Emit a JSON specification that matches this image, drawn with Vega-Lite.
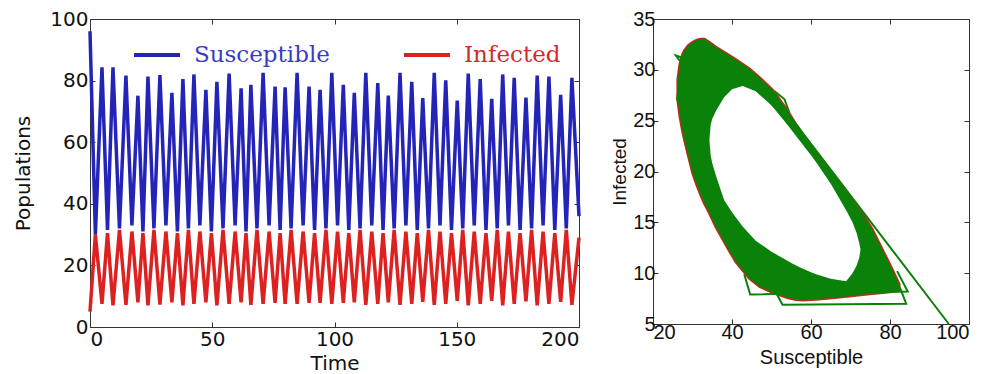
{
  "$schema": "https://vega.github.io/schema/vega-lite/v6.json",
  "background": "white",
  "padding": {"left": 13, "top": 8, "right": 0, "bottom": 0},
  "spacing": 23,
  "config": {
    "view": {"stroke": "#333", "strokeWidth": 1},
    "axis": {"grid": false, "domain": false, "tickSize": -5, "tickColor": "#333", "labelColor": "#111", "titleColor": "#111", "titleFontWeight": "normal"}
  },
  "datasets": {
    "ts": [
      {"t":0,"Susceptible":96,"Infected":5},{"t":2.2,"Susceptible":30,"Infected":30},{"t":4.9,"Susceptible":84.3,"Infected":7.5},{"t":7.15,"Susceptible":31.5,"Infected":30.5},{"t":9.4,"Susceptible":84.3,"Infected":7},{"t":12.05,"Susceptible":32,"Infected":31.5},{"t":14.7,"Susceptible":81.6,"Infected":7.2},{"t":17.15,"Susceptible":33,"Infected":31},{"t":19.6,"Susceptible":75.1,"Infected":8},{"t":21.65,"Susceptible":31,"Infected":30.5},{"t":23.7,"Susceptible":81.3,"Infected":7},{"t":26.15,"Susceptible":32,"Infected":31.5},{"t":28.6,"Susceptible":81.8,"Infected":7.3},{"t":31.05,"Susceptible":33,"Infected":31},{"t":33.5,"Susceptible":76,"Infected":8},{"t":35.75,"Susceptible":31,"Infected":30.5},{"t":38,"Susceptible":80.5,"Infected":7},{"t":40.25,"Susceptible":32,"Infected":31.5},{"t":42.5,"Susceptible":82,"Infected":7.5},{"t":44.95,"Susceptible":33,"Infected":31},{"t":47.4,"Susceptible":77,"Infected":8},{"t":49.65,"Susceptible":31,"Infected":30.5},{"t":51.9,"Susceptible":79.6,"Infected":7},{"t":54.4,"Susceptible":32,"Infected":31.5},{"t":56.9,"Susceptible":82.3,"Infected":7.5},{"t":59.35,"Susceptible":33,"Infected":31},{"t":61.8,"Susceptible":77.5,"Infected":8},{"t":63.8,"Susceptible":31,"Infected":30.5},{"t":65.8,"Susceptible":78.6,"Infected":7.2},{"t":68.3,"Susceptible":32,"Infected":31.5},{"t":70.8,"Susceptible":82.5,"Infected":7.5},{"t":73.25,"Susceptible":33,"Infected":31},{"t":75.7,"Susceptible":78.1,"Infected":7.8},{"t":77.75,"Susceptible":31.5,"Infected":30.5},{"t":79.8,"Susceptible":77.8,"Infected":7.5},{"t":82.25,"Susceptible":32,"Infected":31.5},{"t":84.7,"Susceptible":82.5,"Infected":7.5},{"t":87.15,"Susceptible":33,"Infected":31},{"t":89.6,"Susceptible":78.1,"Infected":7.8},{"t":91.85,"Susceptible":31.5,"Infected":30.5},{"t":94.1,"Susceptible":77,"Infected":7.8},{"t":96.5,"Susceptible":32,"Infected":31.5},{"t":98.9,"Susceptible":82.5,"Infected":7.5},{"t":101.25,"Susceptible":33,"Infected":31},{"t":103.6,"Susceptible":78.6,"Infected":7.8},{"t":105.85,"Susceptible":31.5,"Infected":30.5},{"t":108.1,"Susceptible":76,"Infected":8},{"t":110.45,"Susceptible":32,"Infected":31.5},{"t":112.8,"Susceptible":82.5,"Infected":7.2},{"t":115.25,"Susceptible":33,"Infected":31},{"t":117.7,"Susceptible":79.2,"Infected":7.5},{"t":119.85,"Susceptible":31.5,"Infected":30.5},{"t":122,"Susceptible":75.1,"Infected":8},{"t":124.4,"Susceptible":32,"Infected":31.5},{"t":126.8,"Susceptible":82.5,"Infected":7.2},{"t":129.2,"Susceptible":33,"Infected":31},{"t":131.6,"Susceptible":79.6,"Infected":7.5},{"t":133.85,"Susceptible":31.5,"Infected":30.5},{"t":136.1,"Susceptible":74.3,"Infected":8.2},{"t":138.45,"Susceptible":32,"Infected":31.5},{"t":140.8,"Susceptible":82.5,"Infected":7.2},{"t":143.15,"Susceptible":33,"Infected":31},{"t":145.5,"Susceptible":80.1,"Infected":7.5},{"t":147.85,"Susceptible":31.5,"Infected":30.5},{"t":150.2,"Susceptible":73.5,"Infected":8.5},{"t":152.45,"Susceptible":32,"Infected":31.5},{"t":154.7,"Susceptible":82.3,"Infected":7},{"t":157.15,"Susceptible":33,"Infected":31},{"t":159.6,"Susceptible":80.5,"Infected":7.5},{"t":161.95,"Susceptible":31.5,"Infected":30.5},{"t":164.3,"Susceptible":74.1,"Infected":8.5},{"t":166.55,"Susceptible":32,"Infected":31.5},{"t":168.8,"Susceptible":82,"Infected":7},{"t":171.15,"Susceptible":33,"Infected":31},{"t":173.5,"Susceptible":80.9,"Infected":7.5},{"t":175.9,"Susceptible":31.5,"Infected":30.5},{"t":178.3,"Susceptible":74.5,"Infected":8.3},{"t":180.6,"Susceptible":32,"Infected":31.5},{"t":182.9,"Susceptible":81.6,"Infected":7},{"t":185.3,"Susceptible":33,"Infected":31},{"t":187.7,"Susceptible":81.3,"Infected":7.5},{"t":190.1,"Susceptible":31.5,"Infected":30.5},{"t":192.5,"Susceptible":75.4,"Infected":8.2},{"t":194.8,"Susceptible":32,"Infected":31.5},{"t":197.1,"Susceptible":80.9,"Infected":7.2},{"t":200,"Susceptible":36,"Infected":29}
    ],
    "outer": [
      {"S":26.3,"hi":29.0,"lo":27.0},{"S":26.8,"hi":30.5,"lo":25.5},{"S":27.5,"hi":31.5,"lo":24.0},{"S":28.0,"hi":31.9,"lo":23.1},{"S":29.0,"hi":32.4,"lo":21.5},{"S":30.1,"hi":32.7,"lo":19.8},{"S":31.0,"hi":32.9,"lo":18.8},{"S":32.0,"hi":33.0,"lo":17.8},{"S":33.0,"hi":33.0,"lo":16.9},{"S":34.3,"hi":32.7,"lo":15.9},{"S":36.0,"hi":32.2,"lo":14.5},{"S":38.9,"hi":31.5,"lo":12.5},{"S":41.0,"hi":31.0,"lo":11.1},{"S":44.4,"hi":30.1,"lo":9.5},{"S":47.0,"hi":29.2,"lo":8.7},{"S":50.3,"hi":28.0,"lo":8.1},{"S":54.0,"hi":26.0,"lo":7.6},{"S":56.2,"hi":24.6,"lo":7.4},{"S":58.0,"hi":23.6,"lo":7.35},{"S":62.0,"hi":21.5,"lo":7.45},{"S":66.0,"hi":19.5,"lo":7.6},{"S":69.7,"hi":17.6,"lo":7.75},{"S":73.1,"hi":15.8,"lo":7.9},{"S":75.5,"hi":14.3,"lo":8.0},{"S":78.2,"hi":12.2,"lo":8.1},{"S":80.5,"hi":10.4,"lo":8.2},{"S":82.3,"hi":8.9,"lo":8.3}
    ],
    "hole": [
      {"S":34.3,"hi":23.2,"lo":23.0},{"S":34.6,"hi":24.6,"lo":21.6},{"S":35.0,"hi":25.2,"lo":20.8},{"S":36.0,"hi":26.0,"lo":19.5},{"S":38.0,"hi":27.3,"lo":17.2},{"S":40.0,"hi":28.1,"lo":16.0},{"S":42.7,"hi":28.4,"lo":14.6},{"S":46.0,"hi":27.9,"lo":13.2},{"S":50.0,"hi":26.5,"lo":12.1},{"S":52.8,"hi":25.2,"lo":11.5},{"S":55.0,"hi":24.1,"lo":11.0},{"S":57.0,"hi":23.1,"lo":10.6},{"S":60.0,"hi":21.6,"lo":10.1},{"S":61.3,"hi":20.9,"lo":9.9},{"S":65.0,"hi":18.8,"lo":9.45},{"S":68.9,"hi":16.2,"lo":9.2},{"S":70.5,"hi":15.0,"lo":10.0},{"S":71.5,"hi":14.0,"lo":10.7},{"S":72.2,"hi":13.0,"lo":11.5},{"S":72.5,"hi":12.4,"lo":12.2}
    ],
    "paths": [
      {"p":1,"k":0,"S":94.9,"I":5.0},{"p":1,"k":1,"S":49.0,"I":28.3},{"p":1,"k":2,"S":25.8,"I":31.4},{"p":1,"k":3,"S":27.3,"I":30.6},{"p":1,"k":4,"S":26.4,"I":28.0},{"p":1,"k":5,"S":26.1,"I":27.1},{"p":1,"k":6,"S":27.0,"I":26.5},
      {"p":2,"k":0,"S":43.1,"I":9.9},{"p":2,"k":1,"S":44.6,"I":7.9},{"p":2,"k":2,"S":84.5,"I":8.2},{"p":2,"k":3,"S":81.8,"I":10.2},
      {"p":3,"k":0,"S":51.1,"I":8.1},{"p":3,"k":1,"S":52.8,"I":6.9},{"p":3,"k":2,"S":84.1,"I":7.0},{"p":3,"k":3,"S":82.5,"I":8.6},
      {"p":4,"k":0,"S":50.8,"I":27.9},{"p":4,"k":1,"S":53.3,"I":27.1},{"p":4,"k":2,"S":54.5,"I":25.8}
    ]
  },
  "hconcat": [
    {
      "width": 489,
      "height": 308,
      "data": {"name": "ts"},
      "layer": [
        {
          "mark": {"type": "line", "strokeWidth": 3.5},
          "encoding": {
            "x": {"field": "t", "type": "quantitative", "scale": {"domain": [0, 200], "nice": false},
                  "axis": {"values": [0, 50, 100, 150, 200], "title": "Time", "labelFont": "DejaVu Sans", "labelFontSize": 20, "titleFont": "DejaVu Sans", "titleFontSize": 20, "labelPadding": 7, "titlePadding": 4}},
            "y": {"field": "Susceptible", "type": "quantitative", "scale": {"domain": [0, 100], "nice": false},
                  "axis": {"values": [0, 20, 40, 60, 80, 100], "title": "Populations", "labelFont": "DejaVu Sans", "labelFontSize": 20, "titleFont": "DejaVu Sans", "titleFontSize": 20, "labelPadding": 7, "titlePadding": 16}},
            "color": {"datum": "Susceptible", "type": "nominal",
                      "scale": {"domain": ["Susceptible", "Infected"], "range": ["#2424b8", "#dd2020"]},
                      "legend": {"orient": "none", "legendX": 42, "legendY": 11, "direction": "horizontal", "title": null, "symbolType": "stroke", "symbolSize": 2116, "symbolStrokeWidth": 4, "labelFont": "DejaVu Serif", "labelFontSize": 23, "labelOffset": 12, "columnPadding": 66, "labelLimit": 300,
                                 "labelColor": {"expr": "datum.value == 'Susceptible' ? '#3a3ac8' : '#d42a2a'"}}}
          }
        },
        {
          "mark": {"type": "line", "strokeWidth": 3.5},
          "encoding": {
            "x": {"field": "t", "type": "quantitative", "axis": null},
            "y": {"field": "Infected", "type": "quantitative", "axis": null},
            "color": {"datum": "Infected", "type": "nominal"}
          }
        },
        {
          "mark": {"type": "point", "opacity": 0},
          "encoding": {
            "x": {"field": "t", "type": "quantitative", "axis": {"orient": "top", "values": [0, 50, 100, 150, 200], "labels": false, "title": null}},
            "y": {"field": "Infected", "type": "quantitative", "axis": {"orient": "right", "values": [0, 20, 40, 60, 80, 100], "labels": false, "title": null}}
          }
        }
      ],
      "resolve": {"axis": {"x": "independent", "y": "independent"}}
    },
    {
      "width": 316,
      "height": 305,
      "layer": [
        {
          "data": {"name": "outer"},
          "mark": {"type": "area", "fill": "#b5301a", "stroke": "#b5301a", "strokeWidth": 3},
          "encoding": {
            "x": {"field": "S", "type": "quantitative", "scale": {"domain": [20, 100], "nice": false},
                  "axis": {"values": [20, 40, 60, 80, 100], "title": "Susceptible", "labelFont": "Liberation Sans", "labelFontSize": 20, "titleFont": "Liberation Sans", "titleFontSize": 20, "labelPadding": 3, "titlePadding": 5}},
            "y": {"field": "hi", "type": "quantitative", "scale": {"domain": [5, 35], "nice": false},
                  "axis": {"values": [5, 10, 15, 20, 25, 30, 35], "title": "Infected", "labelFont": "Liberation Sans", "labelFontSize": 20, "titleFont": "Liberation Sans", "titleFontSize": 19, "labelPadding": 3, "titlePadding": 3}},
            "y2": {"field": "lo"}
          }
        },
        {
          "data": {"name": "outer"},
          "mark": {"type": "area", "fill": "#0a820a"},
          "encoding": {
            "x": {"field": "S", "type": "quantitative", "axis": null},
            "y": {"field": "hi", "type": "quantitative", "axis": null},
            "y2": {"field": "lo"}
          }
        },
        {
          "data": {"name": "hole"},
          "mark": {"type": "area", "fill": "white"},
          "encoding": {
            "x": {"field": "S", "type": "quantitative", "axis": null},
            "y": {"field": "hi", "type": "quantitative", "axis": null},
            "y2": {"field": "lo"}
          }
        },
        {
          "data": {"name": "paths"},
          "mark": {"type": "line", "stroke": "#0a820a", "strokeWidth": 2},
          "encoding": {
            "x": {"field": "S", "type": "quantitative", "axis": null},
            "y": {"field": "I", "type": "quantitative", "axis": null},
            "detail": {"field": "p", "type": "nominal"},
            "order": {"field": "k", "type": "quantitative"}
          }
        },
        {
          "data": {"name": "outer"},
          "mark": {"type": "point", "opacity": 0},
          "encoding": {
            "x": {"field": "S", "type": "quantitative", "axis": {"orient": "top", "values": [20, 40, 60, 80, 100], "labels": false, "title": null}},
            "y": {"field": "hi", "type": "quantitative", "axis": {"orient": "right", "values": [5, 10, 15, 20, 25, 30, 35], "labels": false, "title": null}}
          }
        }
      ],
      "resolve": {"axis": {"x": "independent", "y": "independent"}}
    }
  ]
}
